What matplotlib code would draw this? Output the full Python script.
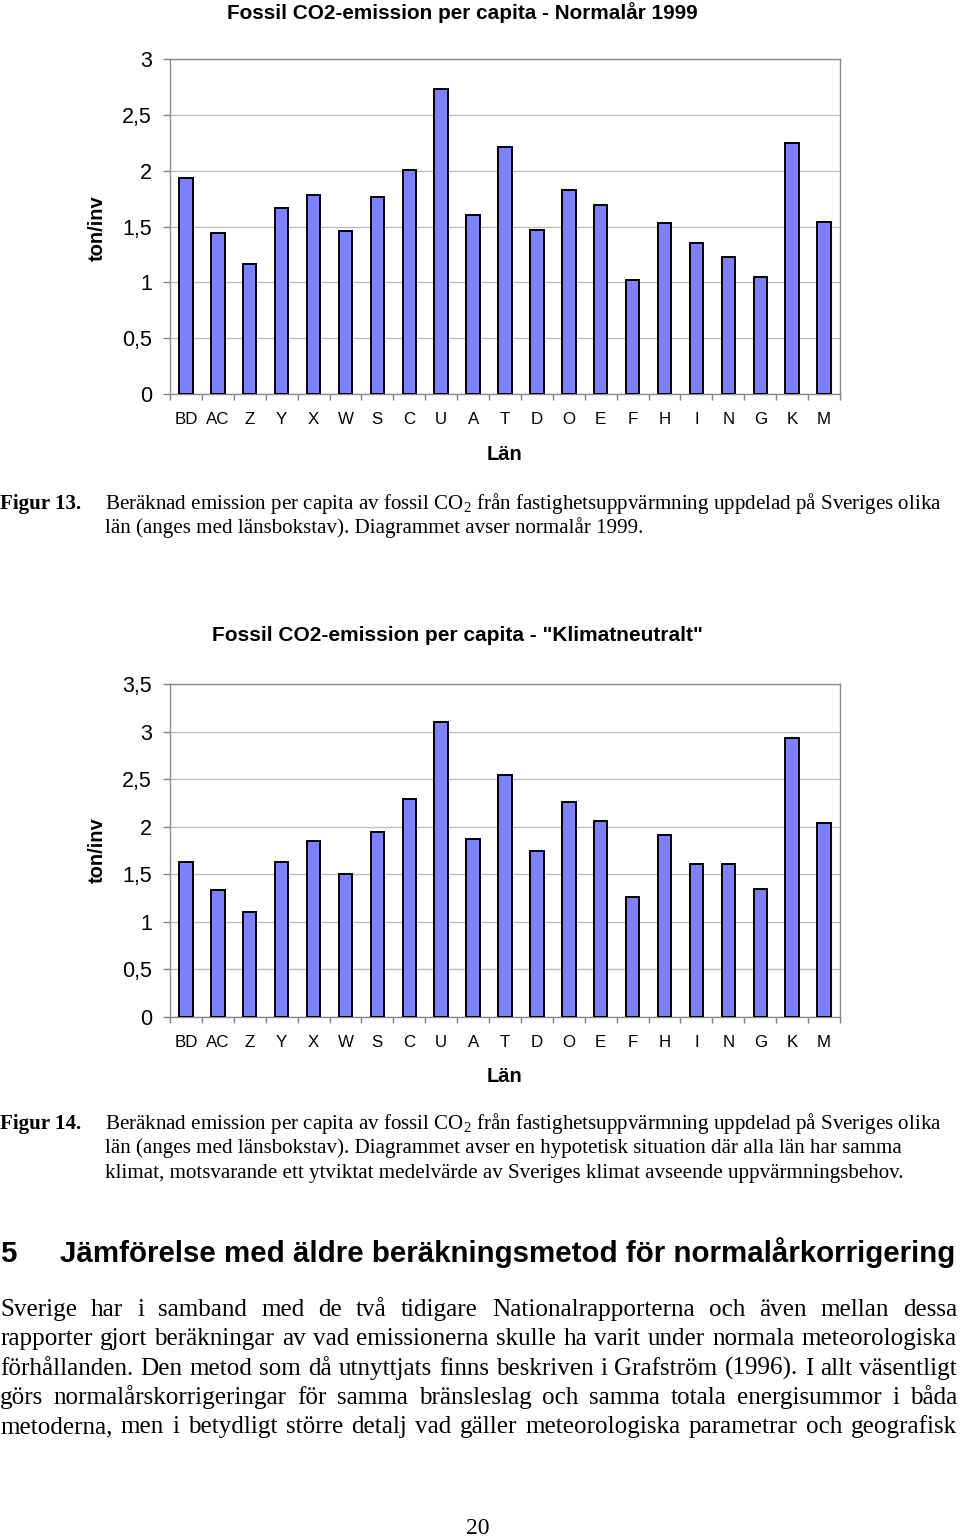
import matplotlib
matplotlib.use('Agg')
import matplotlib.pyplot as plt
from matplotlib.ticker import FixedLocator, NullFormatter

plt.rcParams['mathtext.fontset'] = 'custom'
plt.rcParams['mathtext.rm'] = 'Liberation Serif'
plt.rcParams['mathtext.it'] = 'Liberation Serif:italic'
plt.rcParams['mathtext.bf'] = 'Liberation Serif:bold'

# ---------------- data ----------------
lan = ['BD', 'AC', 'Z', 'Y', 'X', 'W', 'S', 'C', 'U', 'A', 'T', 'D', 'O', 'E',
       'F', 'H', 'I', 'N', 'G', 'K', 'M']
normalar_1999 = [1.93, 1.44, 1.16, 1.67, 1.78, 1.46, 1.76, 2.01, 2.73, 1.60, 2.21,
                 1.47, 1.83, 1.69, 1.02, 1.53, 1.35, 1.23, 1.05, 2.25, 1.54]
klimatneutralt = [1.63, 1.33, 1.10, 1.63, 1.85, 1.50, 1.94, 2.29, 3.10, 1.87, 2.54,
                  1.75, 2.26, 2.06, 1.26, 1.91, 1.61, 1.61, 1.35, 2.93, 2.04]
yticks1 = [0, 0.5, 1, 1.5, 2, 2.5, 3]
ylabels1 = ['0', '0,5', '1', '1,5', '2', '2,5', '3']
yticks2 = [0, 0.5, 1, 1.5, 2, 2.5, 3, 3.5]
ylabels2 = ['0', '0,5', '1', '1,5', '2', '2,5', '3', '3,5']

title1 = 'Fossil CO2-emission per capita - Normalår 1999'
title2 = 'Fossil CO2-emission per capita - "Klimatneutralt"'
caption13 = ['Beräknad emission per capita av fossil CO$_2$ från fastighetsuppvärmning uppdelad på Sveriges olika',
             'län (anges med länsbokstav). Diagrammet avser normalår 1999.']
caption14 = ['Beräknad emission per capita av fossil CO$_2$ från fastighetsuppvärmning uppdelad på Sveriges olika',
             'län (anges med länsbokstav). Diagrammet avser en hypotetisk situation där alla län har samma',
             'klimat, motsvarande ett ytviktat medelvärde av Sveriges klimat avseende uppvärmningsbehov.']
heading_num = '5'
heading = 'Jämförelse med äldre beräkningsmetod för normalårkorrigering'
body = ['Sverige har i samband med de två tidigare Nationalrapporterna och även mellan dessa',
        'rapporter gjort beräkningar av vad emissionerna skulle ha varit under normala meteorologiska',
        'förhållanden. Den metod som då utnyttjats finns beskriven i Grafström (1996). I allt väsentligt',
        'görs normalårskorrigeringar för samma bränsleslag och samma totala energisummor i båda',
        'metoderna, men i betydligt större detalj vad gäller meteorologiska parametrar och geografisk']
page_no = '20'

# ---------------- figure ----------------
W, H = 960, 1539
fig = plt.figure(figsize=(W / 100, H / 100), dpi=100)
renderer = fig.canvas.get_renderer()
SANS = 'Liberation Sans'
SERIF = 'Liberation Serif'


def fx(x):
    return x / W


def fy(y):
    return 1 - y / H


def twidth(t):
    return t.get_window_extent(renderer).width


def put(x, y, s, size, family, weight='normal', ha='left', fit=None, **kw):
    t = fig.text(fx(x), fy(y), s, fontsize=size, family=family, weight=weight,
                 ha=ha, va='baseline', **kw)
    if fit is not None:
        t.set_fontsize(size * fit / twidth(t))
    return t


def justify(line, x0, x1, y, size, family):
    words = line.split()
    ts = [fig.text(0, fy(y), w, fontsize=size, family=family, va='baseline')
          for w in words]
    widths = [twidth(t) for t in ts]
    gap = (x1 - x0 - sum(widths)) / (len(words) - 1)
    x = x0
    for t, w in zip(ts, widths):
        t.set_x(fx(x))
        x += w + gap


def bar_chart(top, bottom, values, yticks, ylabels, ymax):
    ax = fig.add_axes([fx(170), fy(bottom), (840 - 170) / W, (bottom - top) / H])
    x = list(range(len(lan)))
    ax.bar(x, values, width=0.42, color='#8080FF', edgecolor='black',
           linewidth=1.4, zorder=3)
    ax.set_xlim(-0.5, len(lan) - 0.5)
    ax.set_ylim(0, ymax)
    ax.yaxis.set_major_locator(FixedLocator(yticks))
    ax.set_yticklabels(ylabels, fontsize=15.5, family=SANS)
    ax.set_xticks(x)
    ax.set_xticklabels(lan, fontsize=12.2, family=SANS)
    ax.xaxis.set_minor_locator(FixedLocator([i - 0.5 for i in range(len(lan) + 1)]))
    ax.xaxis.set_minor_formatter(NullFormatter())
    ax.tick_params(axis='x', which='major', length=0, pad=13)
    ax.tick_params(axis='x', which='minor', length=4, color='#808080', width=1)
    ax.tick_params(axis='y', length=5, color='#808080', width=1, pad=8)
    ax.grid(axis='y', color='#BDBDBD', linewidth=1, zorder=0)
    for s in ax.spines.values():
        s.set_color('#8C8C8C')
        s.set_linewidth(1)
    return ax


# chart 1
put(462, 19, title1, 13, SANS, weight='bold', ha='center', fit=469)
bar_chart(59, 394, normalar_1999, yticks1, ylabels1, 3)
fig.text(fx(97), fy(228), 'ton/inv', rotation=90, fontsize=14.5, family=SANS,
         weight='bold', ha='center', va='center')
fig.text(fx(505), fy(455), 'Län', fontsize=14.5, family=SANS, weight='bold',
         ha='center', va='center')

# caption 13
cap_t = put(105, 509, caption13[0], 14, SERIF, fit=837)
cap_size = cap_t.get_fontsize()
put(0, 509, 'Figur 13.', cap_size, SERIF, weight='bold')
put(105, 533, caption13[1], cap_size, SERIF)

# chart 2
put(457, 641, title2, 13, SANS, weight='bold', ha='center', fit=487)
bar_chart(684, 1017, klimatneutralt, yticks2, ylabels2, 3.5)
fig.text(fx(97), fy(850), 'ton/inv', rotation=90, fontsize=14.5, family=SANS,
         weight='bold', ha='center', va='center')
fig.text(fx(505), fy(1076), 'Län', fontsize=14.5, family=SANS, weight='bold',
         ha='center', va='center')

# caption 14
put(0, 1129, 'Figur 14.', cap_size, SERIF, weight='bold')
for i, line in enumerate(caption14):
    put(105, 1129 + i * 24.5, line, cap_size, SERIF)

# heading
ht = put(60, 1262, heading, 18, SANS, weight='bold', fit=895)
put(0, 1262, heading_num, ht.get_fontsize(), SANS, weight='bold')

# body text (justified)
sizes = []
for line in body:
    t = fig.text(0, 0, line, fontsize=10, family=SERIF)
    sizes.append(10 * 957 / twidth(t))
    t.remove()
body_size = min(sizes) * 0.995
for i, line in enumerate(body):
    justify(line, 0, 957, 1316 + i * 29.3, body_size, SERIF)

# page number
put(478, 1534, page_no, 17, SERIF, ha='center')

fig.savefig('out.png', dpi=100)
